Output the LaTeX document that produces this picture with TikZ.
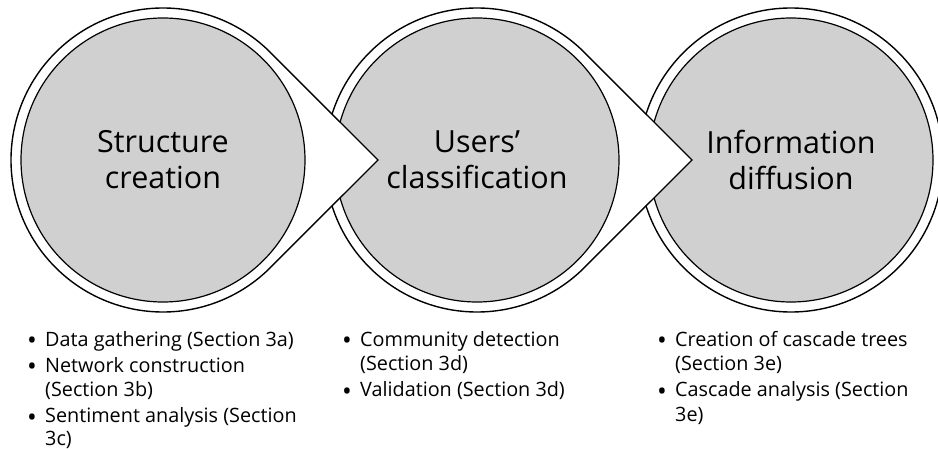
\documentclass[tikz,border=0pt]{standalone}
\usepackage{fontspec}
\setmainfont{Open Sans}
\definecolor{circgray}{RGB}{208,208,208}
\begin{document}
\begin{tikzpicture}[x=1pt,y=1pt,
  ring/.style={draw=black, line width=1.4pt, fill=white},
  core/.style={draw=black, line width=1.2pt, fill=circgray, circle, minimum size=284pt, inner sep=0pt},
  title/.style={font=\fontsize{30.5}{36}\selectfont, align=center, inner sep=0pt},
  item/.style={font=\fontsize{19.8}{25}\selectfont, anchor=base west, inner sep=0pt},
  bul/.style={font=\fontsize{26}{26}\selectfont, anchor=base, inner sep=0pt, yshift=-3.5pt}]
\useasboundingbox (0,0) rectangle (938,448);
\clip (0,0) rectangle (938,448);
% shape 3 (plain ring)
\draw[ring] (791,288) circle[radius=152];
\node[core] (c3) at (791,288) {};
% shape 2 (ring with arrow)
\draw[ring] (477,288) ++(45:152) arc[start angle=45,end angle=315,radius=152] -- (692,288) -- cycle;
\node[core] (c2) at (477,288) {};
% shape 1 (ring with arrow)
\draw[ring] (163,288) ++(45:152) arc[start angle=45,end angle=315,radius=152] -- (378,288) -- cycle;
\node[core] (c1) at (163,288) {};
% titles
\node[title] (t1) at (c1) {Structure\\creation};
\node[title] (t2) at (c2) {Users’\\classification};
\node[title] (t3) at (c3) {Information\\diffusion};
% column 1
\node[bul]  (b11) at (32,102) {•};
\node[item] (l11) at (45,102) {Data gathering (Section 3a)};
\node[bul]  (b12) at (32,76) {•};
\node[item] (l12) at (45,76) {Network construction};
\node[item] (l13) at (45,51.5) {(Section 3b)};
\node[bul]  (b13) at (32,25.5) {•};
\node[item] (l14) at (45,25.5) {Sentiment analysis (Section};
\node[item] (l15) at (45,3) {3c)};
% column 2
\node[bul]  (b21) at (347,102) {•};
\node[item] (l21) at (360,102) {Community detection};
\node[item] (l22) at (360,77.5) {(Section 3d)};
\node[bul]  (b22) at (347,51.5) {•};
\node[item] (l23) at (360,51.5) {Validation (Section 3d)};
% column 3
\node[bul]  (b31) at (662,102) {•};
\node[item] (l31) at (675,102) {Creation of cascade trees};
\node[item] (l32) at (675,77.5) {(Section 3e)};
\node[bul]  (b32) at (662,51.5) {•};
\node[item] (l33) at (675,51.5) {Cascade analysis (Section};
\node[item] (l34) at (675,27) {3e)};
\end{tikzpicture}
\end{document}
